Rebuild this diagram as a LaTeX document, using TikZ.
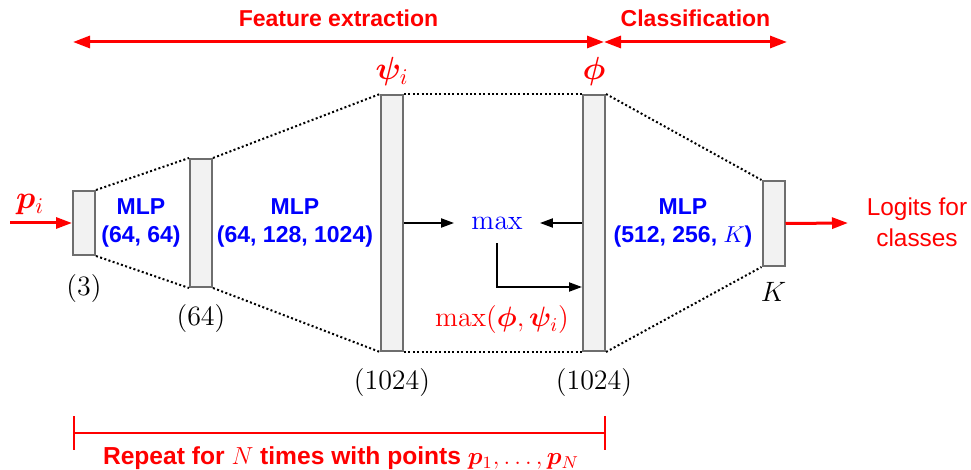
\RequirePackage{fix-cm}
\documentclass[tikz,border=0pt]{standalone}
\usepackage{bm}
\usepackage[no-math]{fontspec}
\setsansfont{Liberation Sans}
\usetikzlibrary{positioning, arrows.meta}

\definecolor{layerfill}{RGB}{242,242,242}
\definecolor{layerdraw}{RGB}{110,110,110}

\tikzset{
    layer/.style={draw=layerdraw, fill=layerfill, line width=1pt, inner sep=0pt, minimum width=11pt},
    mlp/.style={text=blue, font=\sffamily\bfseries\fontsize{11.5}{14}\selectfont, align=center},
    stage/.style={text=red, font=\sffamily\bfseries\fontsize{11.5}{14}\selectfont},
    dim/.style={inner sep=0pt, font=\fontsize{14}{16}\selectfont},
    vec/.style={inner sep=0pt, text=red, font=\fontsize{16}{18}\selectfont},
    link/.style={line width=1pt, dash pattern=on 1pt off 1.2pt},
    redarrow/.style={-{Triangle[length=8pt, width=5.5pt]}, red, line width=1.5pt},
    blackarrow/.style={-{Triangle[length=6.5pt, width=4.5pt]}, line width=1pt}
}

\begin{document}
\begin{tikzpicture}[>=stealth, x=0.5pt, y=-0.5pt]
    \useasboundingbox (0,0) rectangle (971,470);

    % Layers
    \node[layer, minimum height=32pt] (l1) at (84,223) {};
    \node[layer, minimum height=64pt] (l2) at (201,223) {};
    \node[layer, minimum height=128pt] (l3) at (392,223) {};
    \node[layer, minimum height=128pt] (l4) at (594,223) {};
    \node[layer, minimum height=42.5pt] (l5) at (773.5,223.5) {};

    % Dotted links
    \draw[link] (l1.north east) -- (l2.north west);
    \draw[link] (l1.south east) -- (l2.south west);
    \draw[link] (l2.north east) -- (l3.north west);
    \draw[link] (l2.south east) -- (l3.south west);
    \draw[link] (l3.north east) -- (l4.north west);
    \draw[link] (l3.south east) -- (l4.south west);
    \draw[link] (l4.north east) -- (l5.north west);
    \draw[link] (l4.south east) -- (l5.south west);

    % Sizes
    \node[dim, below=9pt of l1] (d1) {$(3)$};
    \node[dim, below=8pt of l2] (d2) {$(64)$};
    \node[dim, below=8pt of l3] (d3) {$(1024)$};
    \node[dim, below=8pt of l4] (d4) {$(1024)$};
    \node[dim, below=7.5pt of l5] (d5) {$K$};
    \node[vec, above=4pt of l3] (psi) {$\bm{\psi}_i$};
    \node[vec, above=4pt of l4] (phi) {$\bm{\phi}$};

    % MLPs
    \node[mlp] (m1) at (141,223) {MLP\\(64, 64)};
    \node[mlp] (m2) at (295,223) {MLP\\(64, 128, 1024)};
    \node[mlp] (m3) at (683,223) {MLP\\(512, 256, $K$)};

    % Input and output
    \coordinate (in) at (10,223);
    \draw[redarrow] (in) -- (l1.west);
    \node[vec] (pin) at (30,205) {$\bm{p}_i$};

    \coordinate (out) at (848,223);
    \draw[redarrow] (l5.east) -- (out);
    \node[text=red, font=\sffamily\fontsize{12.2}{15.5}\selectfont, align=center] (logits) at (917,222) {Logits for\\classes};

    % Max pooling
    \node[dim, text=blue, inner xsep=8.5pt, inner ysep=7pt] (mx) at (497,223) {$\max$};
    \draw[blackarrow] (l3.east) -- (mx.west);
    \draw[blackarrow] (l4.west) -- (mx.east);
    \draw[blackarrow] (mx.south) |- ([yshift=-32pt]l4.west);
    \node[dim, text=red] (upd) at (502,320) {$\max(\bm{\phi}, \bm{\psi}_i)$};

    % Stages
    \coordinate (fe-l) at (73,42);
    \coordinate (fe-r) at (604,42);
    \coordinate (cl-r) at (787,42);
    \draw[{Triangle[length=8.5pt, width=6pt]}-{Triangle[length=8.5pt, width=6pt]}, red, line width=1.5pt] (fe-l) -- (fe-r) node[stage, midway, above=3.5pt] {Feature extraction};
    \draw[{Triangle[length=8.5pt, width=6pt]}-{Triangle[length=8.5pt, width=6pt]}, red, line width=1.5pt] (fe-r) -- (cl-r) node[stage, midway, above=3.5pt] {Classification};

    % Repeat
    \coordinate (rp-l) at (73,433);
    \coordinate (rp-r) at (606,433);
    \draw[{Bar[width=17pt]}-{Bar[width=17pt]}, red, line width=1.2pt] (rp-l) -- (rp-r);
    \node[stage, font=\sffamily\bfseries\fontsize{12.3}{14}\selectfont] (rep) at (341,458) {Repeat for $N$ times with points $\bm{p}_1, \ldots, \bm{p}_N$};
\end{tikzpicture}
\end{document}
